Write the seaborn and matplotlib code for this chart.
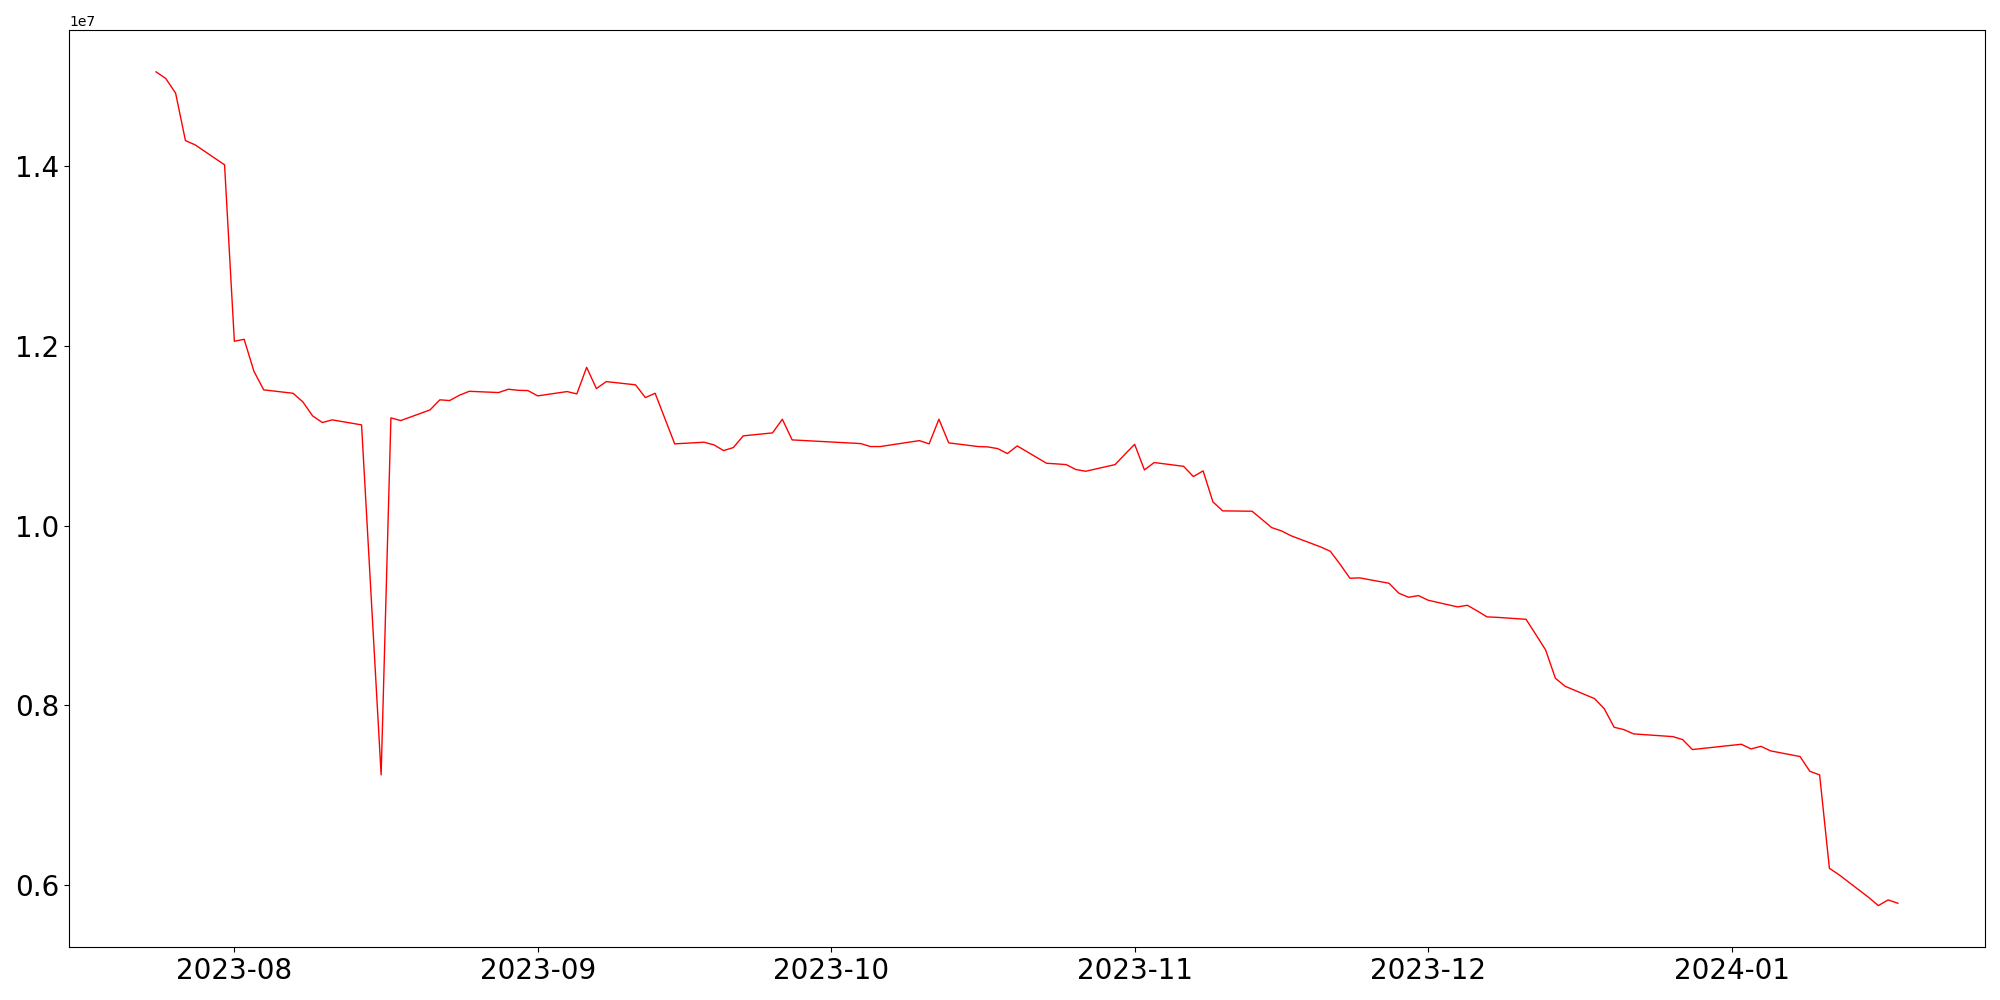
import matplotlib
matplotlib.use("Agg")
import matplotlib.pyplot as plt
import seaborn as sns
import pandas as pd
import numpy as np

dates = [
    "2023-07-24", "2023-07-25", "2023-07-26", "2023-07-27", "2023-07-28",
    "2023-07-31", "2023-08-01", "2023-08-02", "2023-08-03", "2023-08-04",
    "2023-08-07", "2023-08-08", "2023-08-09", "2023-08-10", "2023-08-11",
    "2023-08-14", "2023-08-16", "2023-08-17", "2023-08-18",
    "2023-08-21", "2023-08-22", "2023-08-23", "2023-08-24", "2023-08-25",
    "2023-08-28", "2023-08-29", "2023-08-30", "2023-08-31", "2023-09-01",
    "2023-09-04", "2023-09-05", "2023-09-06", "2023-09-07", "2023-09-08",
    "2023-09-11", "2023-09-12", "2023-09-13", "2023-09-14", "2023-09-15",
    "2023-09-18", "2023-09-19", "2023-09-20", "2023-09-21", "2023-09-22",
    "2023-09-25", "2023-09-26", "2023-09-27",
    "2023-10-04", "2023-10-05", "2023-10-06",
    "2023-10-10", "2023-10-11", "2023-10-12", "2023-10-13",
    "2023-10-16", "2023-10-17", "2023-10-18", "2023-10-19", "2023-10-20",
    "2023-10-23", "2023-10-24", "2023-10-25", "2023-10-26", "2023-10-27",
    "2023-10-30", "2023-10-31", "2023-11-01", "2023-11-02", "2023-11-03",
    "2023-11-06", "2023-11-07", "2023-11-08", "2023-11-09", "2023-11-10",
    "2023-11-13", "2023-11-14", "2023-11-15", "2023-11-16", "2023-11-17",
    "2023-11-20", "2023-11-21", "2023-11-22", "2023-11-23", "2023-11-24",
    "2023-11-27", "2023-11-28", "2023-11-29", "2023-11-30", "2023-12-01",
    "2023-12-04", "2023-12-05", "2023-12-06", "2023-12-07", "2023-12-08",
    "2023-12-11", "2023-12-12", "2023-12-13", "2023-12-14", "2023-12-15",
    "2023-12-18", "2023-12-19", "2023-12-20", "2023-12-21", "2023-12-22",
    "2023-12-26", "2023-12-27", "2023-12-28",
    "2024-01-02", "2024-01-03", "2024-01-04", "2024-01-05",
    "2024-01-08", "2024-01-09", "2024-01-10", "2024-01-11", "2024-01-12",
    "2024-01-15", "2024-01-16", "2024-01-17", "2024-01-18",
]

values = [
    15051000, 14976000, 14813000, 14286000, 14238000,
    14016000, 12052000, 12074000, 11718000, 11511000,
    11473000, 11377000, 11221000, 11147000, 11177000,
    11121000, 7225000, 11199000, 11169000,
    11288000, 11400000, 11392000, 11451000, 11495000,
    11481000, 11518000, 11506000, 11503000, 11444000,
    11492000, 11466000, 11762000, 11525000, 11603000,
    11567000, 11425000, 11473000, 11191000, 10910000,
    10928000, 10899000, 10835000, 10869000, 10999000,
    11032000, 11184000, 10954000,
    10913000, 10880000, 10880000,
    10946000, 10910000, 11184000, 10921000,
    10880000, 10876000, 10857000, 10802000, 10887000,
    10694000, 10687000, 10679000, 10624000, 10605000,
    10679000, 10793000, 10905000, 10620000, 10702000,
    10660000, 10546000, 10609000, 10264000, 10164000,
    10160000, 10070000, 9978000, 9941000, 9886000,
    9763000, 9714000, 9569000, 9414000, 9418000,
    9358000, 9247000, 9202000, 9221000, 9169000,
    9095000, 9113000, 9051000, 8984000, 8979000,
    8957000, 8787000, 8616000, 8300000, 8211000,
    8074000, 7960000, 7755000, 7729000, 7681000,
    7651000, 7618000, 7507000,
    7566000, 7514000, 7543000, 7492000,
    7429000, 7265000, 7225000, 6185000, 6112000,
    5862000, 5770000, 5833000, 5796000,
]

x = pd.to_datetime(dates)
y = np.array(values, dtype=float)

fig, ax = plt.subplots(figsize=(20, 10), dpi=100)
sns.lineplot(x=x, y=y, color="red", linewidth=1.0, ax=ax)
ax.tick_params(axis="both", labelsize=20)
ax.set_xlabel("")
ax.set_ylabel("")
fig.tight_layout()
fig.savefig("out.png", dpi=100)
